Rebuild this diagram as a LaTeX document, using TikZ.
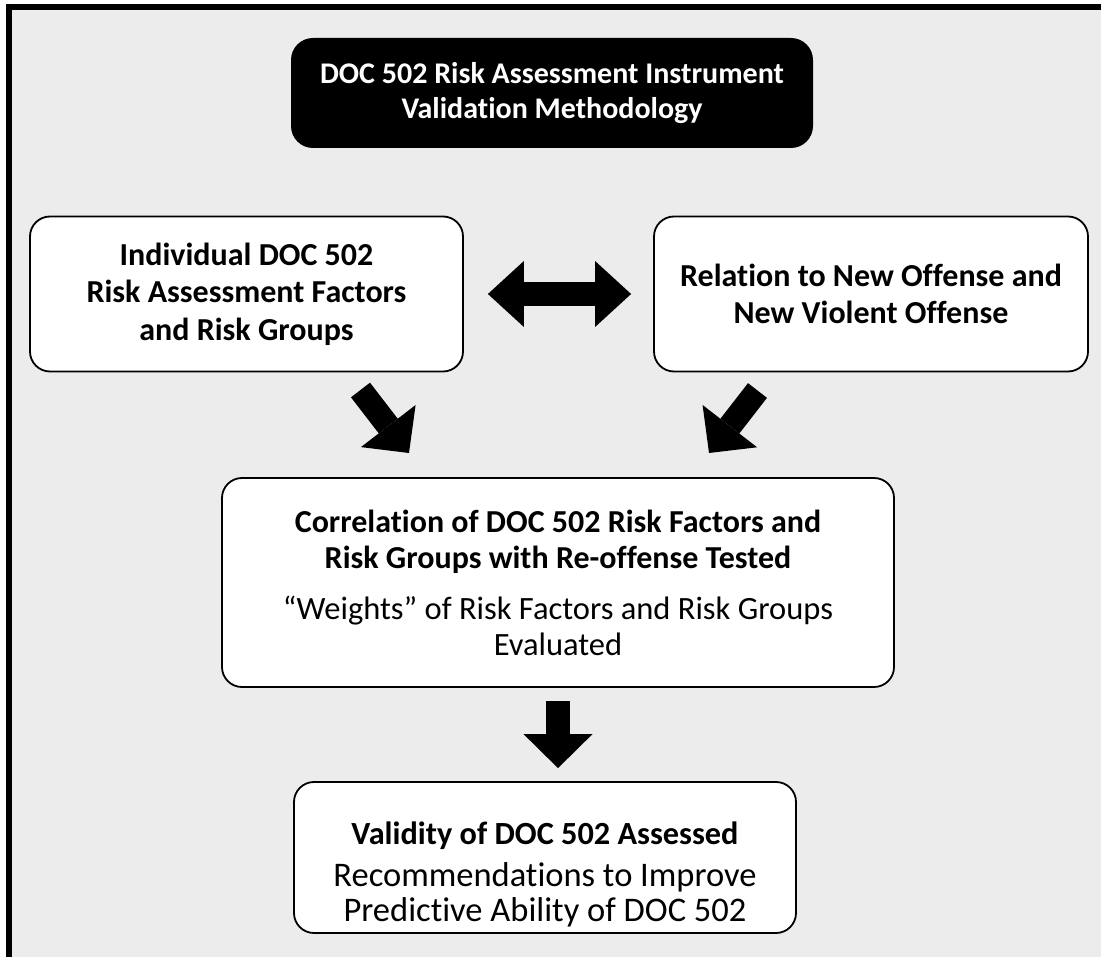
\documentclass[tikz,border=0pt]{standalone}
\usepackage{fontspec}
\setmainfont{Carlito}[Ligatures=NoCommon]
\usetikzlibrary{arrows.meta}
\definecolor{backdrop}{RGB}{236,236,236}
\tikzset{
    box/.style={draw, line width=1.8pt, fill=white, rounded corners=20pt, align=center},
    titlebox/.style={fill=black, text=white, rounded corners=22pt, align=center,
        font=\bfseries\fontsize{30}{35}\selectfont},
    boldtext/.style={font=\bfseries\fontsize{32}{37.5}\selectfont},
    fatarrow/.style={line width=24pt, -{Triangle[length=34pt,width=69pt,line width=0pt]}},
    fatdouble/.style={line width=24pt,
        {Triangle[length=36pt,width=66pt,line width=0pt]}-{Triangle[length=36pt,width=66pt,line width=0pt]}}
}
\newcommand{\regtext}{\fontsize{32.5}{38}\selectfont}
\newcommand{\bigtext}{\fontsize{34.5}{35}\selectfont}

\begin{document}
\begin{tikzpicture}[x=1pt,y=-1pt]
    %% Background
    \clip (0,0) rectangle (1101,957);
    \draw[line width=6pt, fill=backdrop] (9,7) rectangle (1130,990);
    %% Boxes
    \node[titlebox, minimum width=522pt, minimum height=110pt] (head) at (552,93)
        {DOC 502 Risk Assessment Instrument\\Validation Methodology};
    \node[box, boldtext, minimum width=433pt, minimum height=155pt] (factors) at (246.5,294)
        {Individual DOC 502\\Risk Assessment Factors\\and Risk Groups};
    \node[box, boldtext, minimum width=434pt, minimum height=155pt] (relation) at (871,294)
        {Relation to New Offense and\\New Violent Offense};
    \node[box, font=\fontsize{32}{36}\selectfont, minimum width=672pt, minimum height=209pt] (corr) at (558,582.5)
        {\textbf{Correlation of DOC 502 Risk Factors and}\\
         \textbf{Risk Groups with Re-offense Tested}\\[15pt]
         {\regtext “Weights” of Risk Factors and Risk Groups}\\
         {\regtext Evaluated}};
    \node[box, minimum width=502pt, minimum height=151pt] (valid) at (545,857.5) {};
    \node[align=center, font=\bigtext] (validtext) at ([yshift=-17pt]valid.center)
        {{\bfseries\fontsize{32.3}{35}\selectfont Validity of DOC 502 Assessed}\\[7pt]
         Recommendations to Improve\\
         Predictive Ability of DOC 502};
    %% Arrows
    \coordinate (lt) at (360.5,390);
    \coordinate (lh) at (409,453);
    \coordinate (rt) at (757.5,390.5);
    \coordinate (rh) at (709,453);
    \draw[fatdouble, shorten <=24pt, shorten >=22pt] (factors.east) -- (relation.west);
    \draw[fatarrow] (lt) -- (lh);
    \draw[fatarrow] (rt) -- (rh);
    \draw[fatarrow, shorten <=13pt, shorten >=13pt] (corr.south) -- (corr.south |- valid.north);
\end{tikzpicture}
\end{document}
